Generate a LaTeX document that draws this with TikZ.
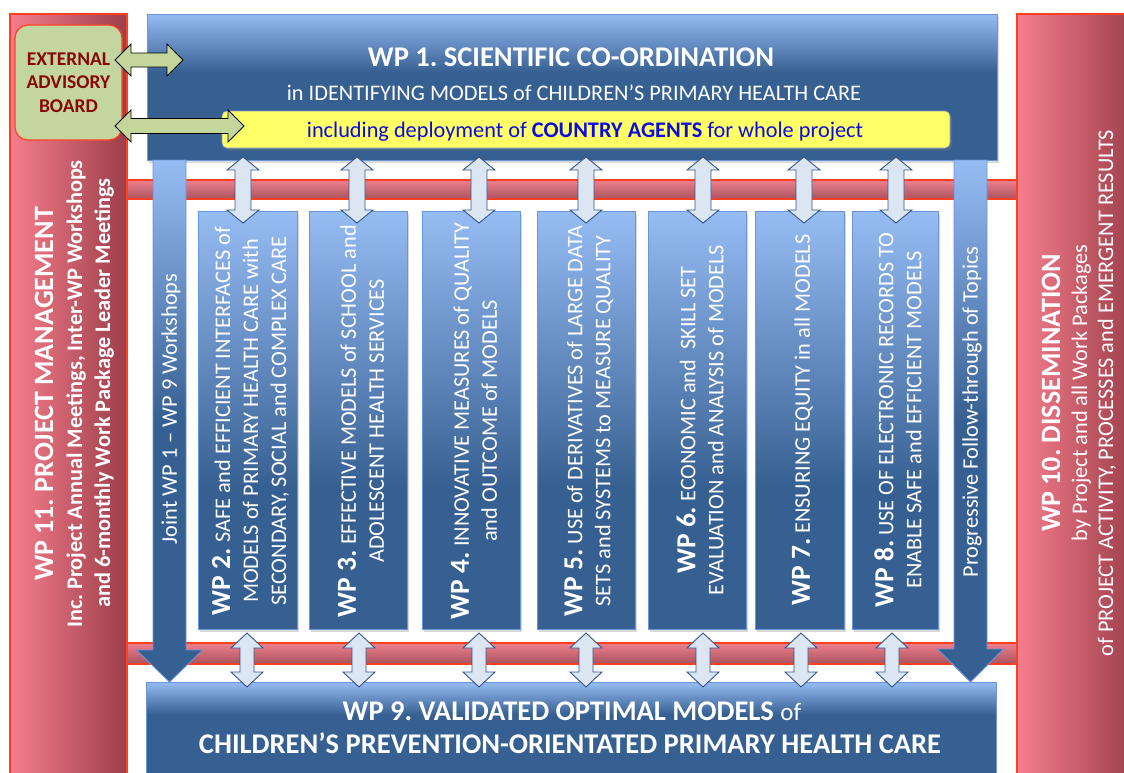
\documentclass[tikz,border=0pt]{standalone}
\usepackage{fontspec}
\setmainfont{Carlito}
\usetikzlibrary{calc,shadows}
\frenchspacing

\definecolor{wpdark}{RGB}{55,96,146}
\definecolor{wplight}{RGB}{150,188,244}
\definecolor{wpedge}{RGB}{108,148,218}
\definecolor{barpink}{RGB}{246,126,141}
\definecolor{bardark}{RGB}{156,62,74}
\definecolor{baredge}{RGB}{255,64,32}
\definecolor{hbartop}{RGB}{240,128,142}
\definecolor{hbarbot}{RGB}{168,82,94}
\definecolor{eabfill}{RGB}{196,214,160}
\definecolor{eabtext}{RGB}{135,8,8}
\definecolor{greenarrow}{RGB}{196,215,155}
\definecolor{linkfill}{RGB}{220,230,242}
\definecolor{linkedge}{RGB}{50,85,135}
\definecolor{agentfill}{RGB}{255,255,102}
\definecolor{agenttext}{RGB}{12,12,220}
\definecolor{agentedge}{RGB}{140,160,200}

% shadings: the central 50bp band is stretched over the shaded path
\pgfdeclareverticalshading{boxfade}{100bp}{color(0bp)=(wpdark); color(42bp)=(wpdark); color(75bp)=(wplight); color(100bp)=(wplight)}
\pgfdeclareverticalshading{headfade}{100bp}{color(0bp)=(wpdark); color(55bp)=(wpdark); color(75bp)=(wplight); color(100bp)=(wplight)}
\pgfdeclareverticalshading{basefade}{100bp}{color(0bp)=(wpdark); color(58bp)=(wpdark); color(75bp)=(wplight); color(100bp)=(wplight)}
\pgfdeclareverticalshading{pillarfade}{100bp}{color(0bp)=(wpdark); color(50bp)=(wpdark); color(75bp)=(wplight); color(100bp)=(wplight)}
\pgfdeclarehorizontalshading{sidefade}{100bp}{color(0bp)=(barpink); color(25bp)=(barpink); color(75bp)=(bardark); color(100bp)=(bardark)}
\pgfdeclareverticalshading{crossfade}{100bp}{color(0bp)=(hbarbot); color(25bp)=(hbarbot); color(75bp)=(hbartop); color(100bp)=(hbartop)}

\newcommand{\fsz}[2]{\fontsize{#1}{#2}\selectfont}

% block double arrow between two named points: [style]{from}{to}{shaft half}{head half}{head length}
\newcommand{\fatdbl}[6][]{%
  \coordinate (fdHA) at ($(#2)!#6!(#3)$);
  \coordinate (fdHB) at ($(#3)!#6!(#2)$);
  \path[#1] (#2) -- ($(fdHA)!#5!90:(#3)$) -- ($(fdHA)!#4!90:(#3)$)
    -- ($(fdHB)!#4!-90:(#2)$) -- ($(fdHB)!#5!-90:(#2)$) -- (#3)
    -- ($(fdHB)!#5!90:(#2)$) -- ($(fdHB)!#4!90:(#2)$)
    -- ($(fdHA)!#4!-90:(#3)$) -- ($(fdHA)!#5!-90:(#3)$) -- cycle;
}
% block single arrow from a flat end to a tip
\newcommand{\fatarrow}[6][]{%
  \coordinate (faH) at ($(#3)!#6!(#2)$);
  \path[#1] ($(#2)!#4!90:(#3)$) -- ($(faH)!#4!-90:(#2)$) -- ($(faH)!#5!-90:(#2)$) -- (#3)
    -- ($(faH)!#5!90:(#2)$) -- ($(faH)!#4!90:(#2)$) -- ($(#2)!#4!-90:(#3)$) -- cycle;
}

\begin{document}
\begin{tikzpicture}[x=1pt,y=-1pt,
  every node/.style={inner sep=0pt,outer sep=0pt},
  sidebar/.style={rectangle,draw=baredge,line width=1.2pt,shading=sidefade},
  crossbar/.style={rectangle,draw=baredge,line width=1.2pt,shading=crossfade},
  softshadow/.style={drop shadow={opacity=0.3,shadow xshift=2pt,shadow yshift=-2.5pt}},
  headbox/.style={rectangle,draw=wpedge,line width=0.8pt,shading=headfade,softshadow},
  wpbox/.style={rectangle,draw=wpedge,line width=0.8pt,shading=boxfade,softshadow},
  basebox/.style={rectangle,draw=wpedge,line width=0.8pt,shading=basefade},
  agentbox/.style={rectangle,rounded corners=5pt,draw=agentedge,line width=0.6pt,fill=agentfill,softshadow},
  eabbox/.style={rectangle,rounded corners=13pt,draw=baredge,line width=1.2pt,fill=eabfill,
    align=center,text=eabtext,font=\fsz{19.5}{23.5}\bfseries},
  pillar/.style={draw=wpedge,line width=0.8pt,shading=pillarfade},
  link/.style={draw=linkedge,line width=0.9pt,fill=linkfill},
  advlink/.style={draw=black,line width=0.9pt,fill=greenarrow},
  wptext/.style={rotate=90,align=center,text=white,font=\fsz{22.3}{28}},
  pillartext/.style={rotate=90,text=white,font=\fsz{22.3}{27}},
  sidehead/.style={rotate=90,anchor=base,text=white,font=\fsz{28}{33}\bfseries},
  sideline/.style={rotate=90,anchor=base,text=white,font=\fsz{22.3}{27}},
  headline/.style={anchor=base,text=white,font=\fsz{28.5}{34}\bfseries},
]
\useasboundingbox (0,0) rectangle (1124,772);
\clip (0,0) rectangle (1124,772);

% side bars: project management and dissemination
\node[sidebar,anchor=north west,minimum width=117,minimum height=770] (wp11) at (10,14) {};
\node[sidebar,anchor=north west,minimum width=120,minimum height=770] (wp10) at (1017,14) {};

% cross bars joining the side bars
\node[crossbar,anchor=north west,minimum width=890,minimum height=19] (topbar) at (127,180) {};
\node[crossbar,anchor=north west,minimum width=890,minimum height=21] (botbar) at (127,643) {};

% WP 1 and WP 9 blocks
\node[headbox,anchor=north west,minimum width=850,minimum height=146] (wp1) at (147,14) {};
\node[basebox,anchor=north west,minimum width=850,minimum height=95] (wp9) at (146,682) {};

% the two long arrows from WP 1 down to WP 9
\coordinate (jcol) at (169.5,0);
\coordinate (pcol) at (970.5,0);
\coordinate (jointtop) at (wp1.south -| jcol);
\coordinate (jointtip) at (wp9.north -| jcol);
\coordinate (progtop) at (wp1.south -| pcol);
\coordinate (progtip) at (wp9.north -| pcol);
\fatarrow[pillar]{jointtop}{jointtip}{16.5pt}{33pt}{32pt}
\fatarrow[pillar]{progtop}{progtip}{16.5pt}{33pt}{33pt}

% country agents strip
\node[agentbox,anchor=north west,minimum width=728,minimum height=37] (agents) at (222,111) {};

% work package columns
\node[wpbox,anchor=north west,minimum width=99,minimum height=418] (wp2) at (198,211) {};
\node[wpbox,anchor=north west,minimum width=98,minimum height=418] (wp3) at (309,211) {};
\node[wpbox,anchor=north west,minimum width=98,minimum height=418] (wp4) at (422,211) {};
\node[wpbox,anchor=north west,minimum width=98,minimum height=418] (wp5) at (537,211) {};
\node[wpbox,anchor=north west,minimum width=98,minimum height=418] (wp6) at (648,211) {};
\node[wpbox,anchor=north west,minimum width=89,minimum height=418] (wp7) at (755,211) {};
\node[wpbox,anchor=north west,minimum width=86,minimum height=418] (wp8) at (852,211) {};

% two-way links: WP 1 to each column, each column to WP 9
\newcommand{\linkpair}[3]{%
  \coordinate (tc#1) at (#2,0);
  \coordinate (bc#1) at (#3,0);
  \coordinate (ua#1) at ($(wp1.south -| tc#1)+(0,-3)$);
  \coordinate (ub#1) at ($(wp#1.north -| tc#1)+(0,12)$);
  \coordinate (la#1) at ($(wp#1.south -| bc#1)+(0,4)$);
  \coordinate (lb#1) at ($(wp9.north -| bc#1)+(0,5)$);
  \fatdbl[link]{ua#1}{ub#1}{8pt}{16pt}{13pt}
  \fatdbl[link]{la#1}{lb#1}{7pt}{16pt}{15pt}
}
\linkpair{2}{243}{247}
\linkpair{3}{357}{359}
\linkpair{4}{479}{479}
\linkpair{5}{586}{586}
\linkpair{6}{703}{703}
\linkpair{7}{804}{801}
\linkpair{8}{896}{892}

% external advisory board and its links
\node[eabbox,anchor=north west,minimum width=107,minimum height=115] (eab) at (15,25) {EXTERNAL\\ADVISORY\\BOARD};
\coordinate (advA1) at ($(eab.north east)+(-7,35)$);
\coordinate (advB1) at ($(wp1.north west)+(36,46)$);
\coordinate (advA2) at ($(eab.south east)+(-7,-14)$);
\coordinate (advB2) at ($(agents.west)+(22,-3.5)$);
\fatdbl[advlink]{advA1}{advB1}{7pt}{16pt}{16pt}
\fatdbl[advlink]{advA2}{advB2}{7.5pt}{16pt}{16pt}

% WP 1 texts
\node[headline] (wp1title) at (571,66) {WP 1. SCIENTIFIC CO-ORDINATION};
\node[anchor=base,text=white,font=\fsz{22.3}{27}] (wp1sub) at (574,100) {in IDENTIFYING MODELS of CHILDREN’S PRIMARY HEALTH CARE};
\node[anchor=base,text=agenttext,font=\fsz{22.3}{27}] (agentst) at (585,137) {including deployment of \textbf{COUNTRY AGENTS} for whole project};

% column texts
\newcommand{\wpn}[1]{{\fsz{27.5}{28}\bfseries #1}}
\node[wptext] (wp2t) at ($(wp2.center)+(3,1)$) {\wpn{WP 2.} SAFE and EFFICIENT INTERFACES of\\MODELS of PRIMARY HEALTH CARE with\\SECONDARY, SOCIAL and COMPLEX CARE};
\node[wptext] (wp3t) at ($(wp3.center)+(3,1)$) {\wpn{WP 3.} EFFECTIVE MODELS of SCHOOL and\\ADOLESCENT HEALTH SERVICES};
\node[wptext] (wp4t) at ($(wp4.center)+(3,1)$) {\wpn{WP 4.} INNOVATIVE MEASURES of QUALITY\\and OUTCOME of MODELS};
\node[wptext] (wp5t) at ($(wp5.center)+(3,1)$) {\wpn{WP 5.} USE of DERIVATIVES of LARGE DATA\\SETS and SYSTEMS to MEASURE QUALITY};
\node[wptext] (wp6t) at ($(wp6.center)+(3,0)$) {\wpn{WP 6.} ECONOMIC and\ \ SKILL SET\\EVALUATION and ANALYSIS of MODELS};
\node[wptext] (wp7t) at ($(wp7.center)+(3,0)$) {\wpn{WP 7.} ENSURING EQUITY in all MODELS};
\node[wptext] (wp8t) at ($(wp8.center)+(3,0)$) {\wpn{WP 8.} USE OF ELECTRONIC RECORDS TO\\ENABLE SAFE and EFFICIENT MODELS};

% long arrow texts
\node[pillartext] (jointt) at (171,409) {Joint WP 1 – WP 9 Workshops};
\node[pillartext] (progt) at (972,412) {Progressive Follow-through of Topics};

% WP 9 texts
\node[headline] (wp9a) at (572,720) {WP 9. VALIDATED OPTIMAL MODELS {\mdseries\fsz{25}{30}of}};
\node[headline] (wp9b) at (570,753) {CHILDREN’S PREVENTION-ORIENTATED PRIMARY HEALTH CARE};

% side bar texts
\node[sidehead] (wp11a) at (53,394) {WP 11. PROJECT MANAGEMENT};
\node[sideline,font=\fsz{22.3}{27}\bfseries] (wp11b) at (82,394) {Inc. Project Annual Meetings, Inter-WP Workshops};
\node[sideline,font=\fsz{22.3}{27}\bfseries] (wp11c) at (110,393) {and 6-monthly Work Package Leader Meetings};
\node[sidehead] (wp10a) at (1060,393) {WP 10. DISSEMINATION};
\node[sideline] (wp10b) at (1087,393) {by Project and all Work Packages};
\node[sideline] (wp10c) at (1113,393) {of PROJECT ACTIVITY, PROCESSES and EMERGENT RESULTS};
\end{tikzpicture}
\end{document}
